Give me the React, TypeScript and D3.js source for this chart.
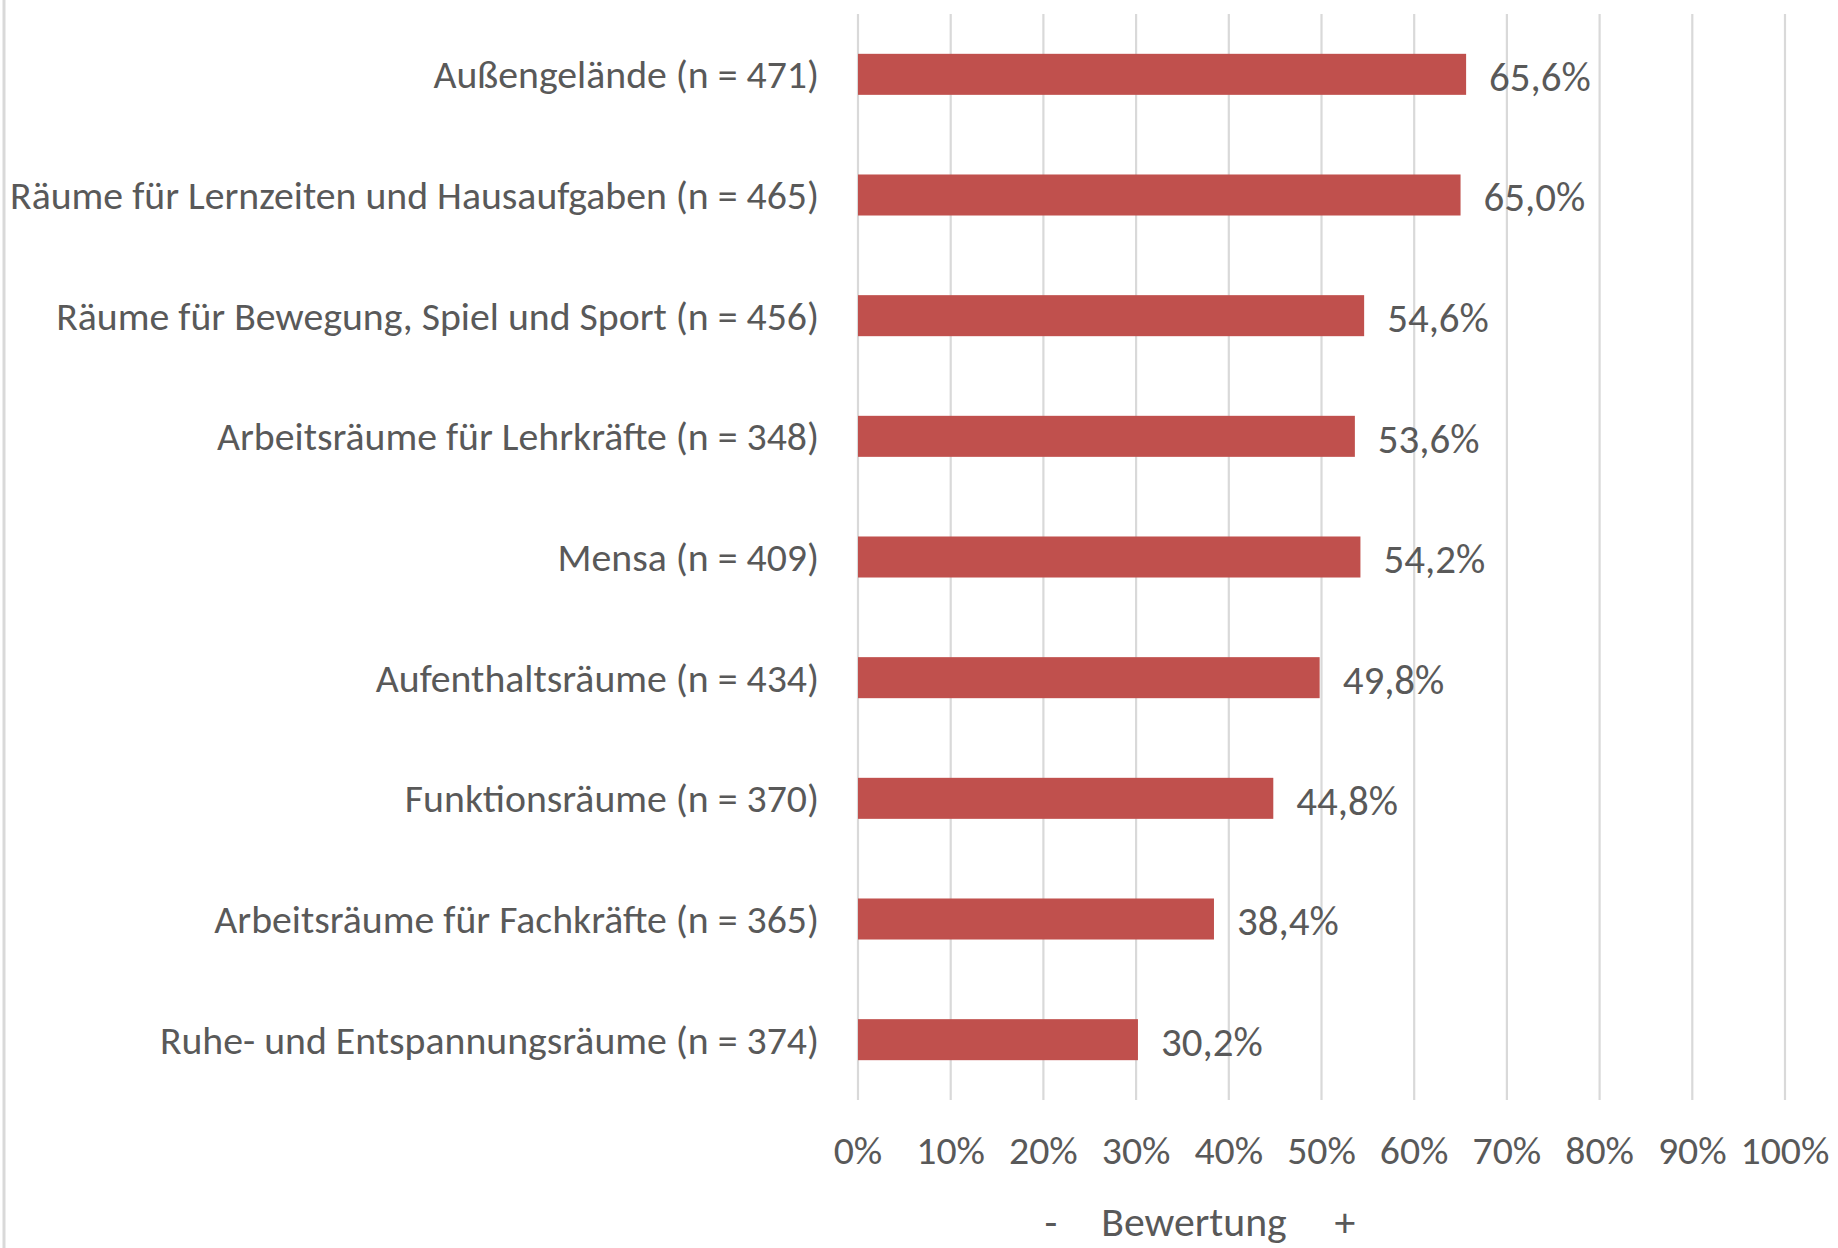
import React, { useMemo } from "react";
import * as d3 from "d3";

const categories = [
  "Außengelände (n = 471)",
  "Räume für Lernzeiten und Hausaufgaben (n = 465)",
  "Räume für Bewegung, Spiel und Sport (n = 456)",
  "Arbeitsräume für Lehrkräfte (n = 348)",
  "Mensa (n = 409)",
  "Aufenthaltsräume (n = 434)",
  "Funktionsräume (n = 370)",
  "Arbeitsräume für Fachkräfte (n = 365)",
  "Ruhe- und Entspannungsräume (n = 374)",
];
const values = [65.6, 65.0, 54.6, 53.6, 54.2, 49.8, 44.8, 38.4, 30.2];
const valueLabels = ["65,6%", "65,0%", "54,6%", "53,6%", "54,2%", "49,8%", "44,8%", "38,4%", "30,2%"];
const ticks = [0, 10, 20, 30, 40, 50, 60, 70, 80, 90, 100];
const axisTitleParts = ["-", "Bewertung", "+"];

const FONT = "Carlito, Calibri, Lato, sans-serif";
const TEXT = "#595959";
const GRID = "#d9d9d9";
const BAR = "#c0504d";

function fitSize(text: string, target: number): number {
  try {
    const c = document.createElement("canvas");
    const ctx = c.getContext("2d");
    if (!ctx) return 36;
    ctx.font = `100px ${FONT}`;
    const w = ctx.measureText(text).width;
    return (100 * target) / w;
  } catch {
    return 36;
  }
}

export default function App() {
  const W = 1838;
  const H = 1248;
  const left = 858;
  const right = 1785;
  const top = 14;
  const bottom = 1100;

  const fs = useMemo(() => fitSize(categories[1], 809), []);

  const x = d3.scaleLinear().domain([0, 100]).range([left, right]);
  const y = d3
    .scaleBand<string>()
    .domain(categories)
    .range([top, bottom])
    .paddingInner(0.66)
    .paddingOuter(0.33);

  // centres of the three parts of the axis title
  const titleX = [1051, 1194, 1345];

  return (
    <svg
      width={W}
      height={H}
      style={{ position: "absolute", left: 0, top: 0, background: "#fff" }}
      fontFamily={FONT}
    >
      <rect x={0} y={0} width={W} height={H} fill="#fff" />
      <line x1={4} x2={4} y1={0} y2={H} stroke={GRID} strokeWidth={3} />
      {ticks.map((t) => (
        <line key={"g" + t} x1={x(t)} x2={x(t)} y1={top} y2={bottom} stroke={GRID} strokeWidth={2.2} />
      ))}
      {categories.map((c, i) => {
        const by = y(c)!;
        const bh = y.bandwidth();
        return (
          <g key={c}>
            <rect x={x(0)} y={by} width={x(values[i]) - x(0)} height={bh} fill={BAR} />
            <text
              x={819}
              y={by + bh / 2}
              dy="0.35em"
              textAnchor="end"
              fontSize={fs}
              fill={TEXT}
            >
              {c}
            </text>
            <text
              x={x(values[i]) + 23}
              y={by + bh / 2 + 2}
              dy="0.35em"
              textAnchor="start"
              fontSize={fs * 1.03}
              fill={TEXT}
            >
              {valueLabels[i]}
            </text>
          </g>
        );
      })}
      {ticks.map((t) => (
        <text
          key={"t" + t}
          x={x(t)}
          y={1150}
          dy="0.35em"
          textAnchor="middle"
          fontSize={fs}
          fill={TEXT}
        >
          {t + "%"}
        </text>
      ))}
      {axisTitleParts.map((p, i) => (
        <text
          key={"a" + i}
          x={titleX[i]}
          y={1236}
          textAnchor="middle"
          fontSize={fs * 1.05}
          fill={TEXT}
        >
          {p}
        </text>
      ))}
    </svg>
  );
}
